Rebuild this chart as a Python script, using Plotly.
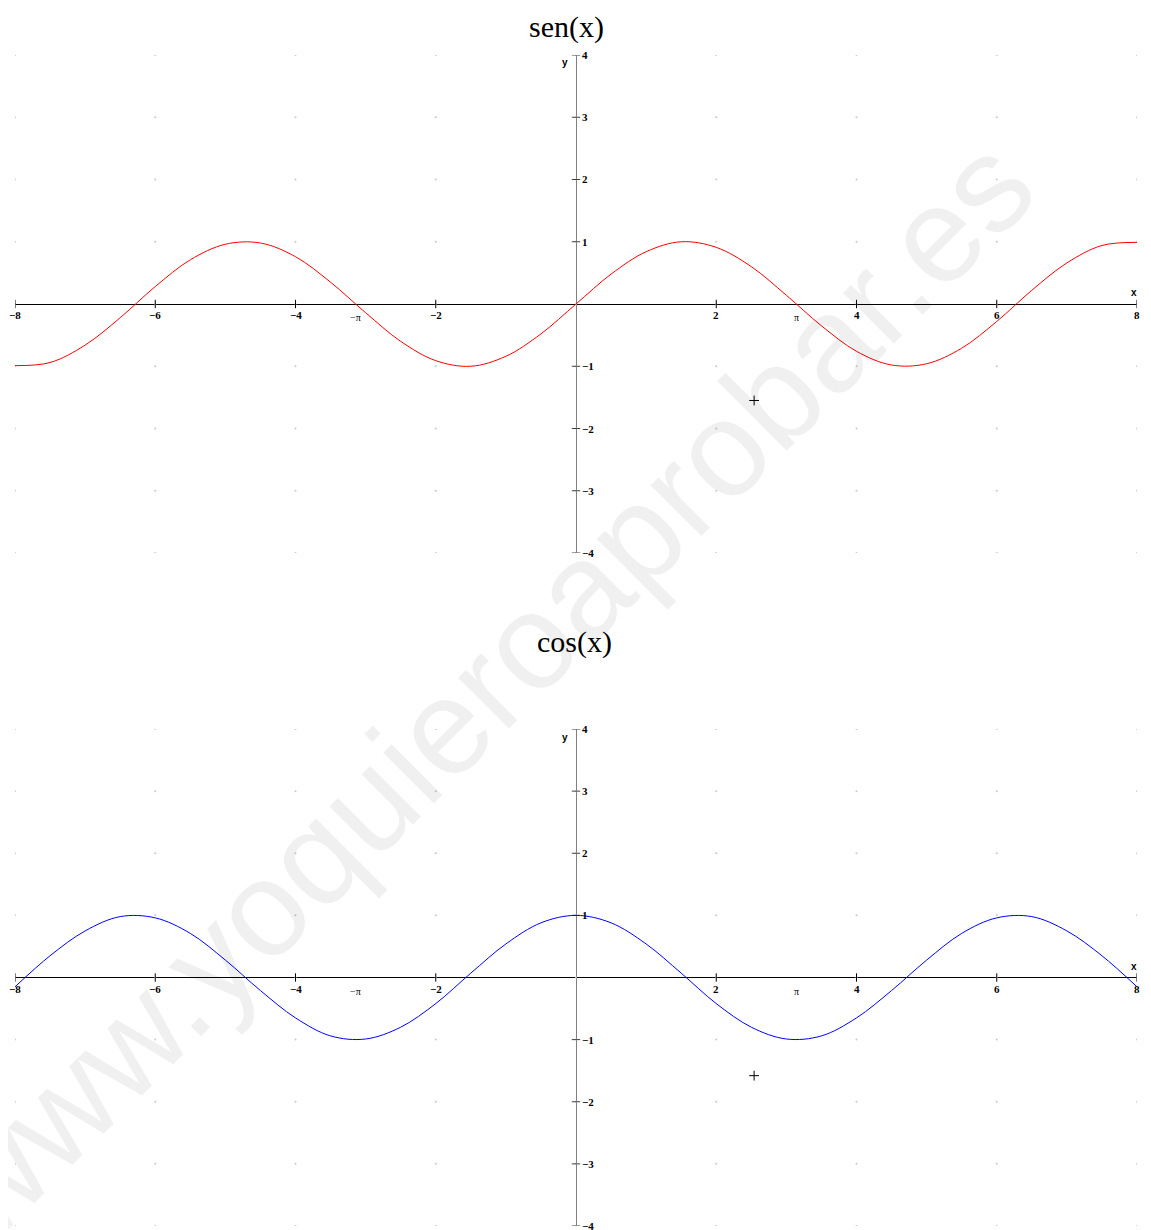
import plotly.graph_objects as go

# ---- data ----
x_samples = [-8, -7.5, -7, -6.5, -6, -5.5, -5, -4.5, -4, -3.5, -3, -2.5, -2, -1.5, -1, -0.5,
             0, 0.5, 1, 1.5, 2, 2.5, 3, 3.5, 4, 4.5, 5, 5.5, 6, 6.5, 7, 7.5, 8]
sen_values = [-0.99, -0.94, -0.66, -0.22, 0.28, 0.71, 0.96, 0.98, 0.76, 0.35, -0.14, -0.60, -0.91, -1.00, -0.84, -0.48,
              0.00, 0.48, 0.84, 1.00, 0.91, 0.60, 0.14, -0.35, -0.76, -0.98, -0.96, -0.71, -0.28, 0.22, 0.66, 0.94, 0.99]
cos_values = [-0.15, 0.35, 0.75, 0.98, 0.96, 0.71, 0.28, -0.21, -0.65, -0.94, -0.99, -0.80, -0.42, 0.07, 0.54, 0.88,
              1.00, 0.88, 0.54, 0.07, -0.42, -0.80, -0.99, -0.94, -0.65, -0.21, 0.28, 0.71, 0.96, 0.98, 0.75, 0.35, -0.15]
x_ticks = [-8, -6, -4, -2, 2, 4, 6, 8]
x_tick_labels = ["−8", "−6", "−4", "−2", "2", "4", "6", "8"]
y_ticks = [4, 3, 2, 1, -1, -2, -3, -4]
y_tick_labels = ["4", "3", "2", "1", "−1", "−2", "−3", "−4"]
pi_ticks = [-3.14159, 3.14159]
pi_labels = ["−π", "π"]
grid_x = [-8, -6, -4, -2, 0, 2, 4, 6, 8]
grid_y = [-4, -3, -2, -1, 0, 1, 2, 3, 4]
cursor_sen = (2.54, -1.55)
cursor_cos = (2.54, -1.58)
titles = ["sen(x)", "cos(x)"]
watermark = "www.yoquieroaprobar.es"

# page body has an 8px margin; compensate so the drawing lands where the reference has it
OFF = 8
W, H = 1151 - OFF, 1230 - OFF


def px(v):
    return (v - OFF) / W


def py(v):
    return 1 - (v - OFF) / H


fig = go.Figure()

panels = [
    dict(xa="x", ya="y", yaxis="yaxis", xaxis="xaxis", vals=sen_values, color="#ff0000",
         dom=[py(553), py(55)], cursor=cursor_sen),
    dict(xa="x2", ya="y2", yaxis="yaxis2", xaxis="xaxis2", vals=cos_values, color="#0000ff",
         dom=[py(1226), py(729)], cursor=cursor_cos),
]

annotations = []
for p in panels:
    gx = [gxv for gxv in grid_x for _ in grid_y]
    gy = [gyv for _ in grid_x for gyv in grid_y]
    fig.add_trace(go.Scatter(x=gx, y=gy, mode="markers", xaxis=p["xa"], yaxis=p["ya"],
                             marker=dict(size=2, color="#c8c8c8"), hoverinfo="skip", showlegend=False))
    fig.add_trace(go.Scatter(x=x_ticks, y=[0] * len(x_ticks), mode="markers", xaxis=p["xa"], yaxis=p["ya"],
                             marker=dict(symbol="line-ns", size=6, line=dict(width=1, color="#000000")),
                             hoverinfo="skip", showlegend=False))
    fig.add_trace(go.Scatter(x=[0] * len(y_ticks), y=y_ticks, mode="markers", xaxis=p["xa"], yaxis=p["ya"],
                             marker=dict(symbol="line-ew", size=6, line=dict(width=1, color="#404040")),
                             hoverinfo="skip", showlegend=False))
    fig.add_trace(go.Scatter(x=x_samples, y=p["vals"], mode="lines", xaxis=p["xa"], yaxis=p["ya"],
                             line=dict(color=p["color"], width=1, shape="spline"), showlegend=False))
    fig.add_trace(go.Scatter(x=[p["cursor"][0]], y=[p["cursor"][1]], mode="markers", xaxis=p["xa"], yaxis=p["ya"],
                             marker=dict(symbol="cross-thin", size=7, line=dict(width=1, color="#000000")),
                             hoverinfo="skip", showlegend=False))
    fig.layout[p["xaxis"]] = dict(range=[-8, 8], domain=[px(15), px(1137)], showgrid=False, zeroline=True,
                                  zerolinecolor="#808080", zerolinewidth=1, showticklabels=False, ticks="",
                                  showline=False, fixedrange=True, anchor=p["ya"])
    fig.layout[p["yaxis"]] = dict(range=[-4, 4], domain=p["dom"], showgrid=False, zeroline=True,
                                  zerolinecolor="#000000", zerolinewidth=1, showticklabels=False, ticks="",
                                  showline=False, fixedrange=True, anchor=p["xa"])
    tick_font = dict(family="Liberation Serif", size=11, color="#000000", weight="bold")
    for v, t in zip(x_ticks, x_tick_labels):
        annotations.append(dict(x=v, y=0, xref=p["xa"], yref=p["ya"], text=t, showarrow=False,
                                xanchor="center", yanchor="top", yshift=-3, font=tick_font))
    for v, t in zip(y_ticks, y_tick_labels):
        annotations.append(dict(x=0, y=v, xref=p["xa"], yref=p["ya"], text=t, showarrow=False,
                                xanchor="left", yanchor="middle", xshift=4, font=tick_font))
    for v, t in zip(pi_ticks, pi_labels):
        annotations.append(dict(x=v, y=0, xref=p["xa"], yref=p["ya"], text=t, showarrow=False,
                                xanchor="center", yanchor="top", yshift=-6,
                                font=dict(family="Liberation Serif", size=10, color="#000000")))
    annotations.append(dict(x=8, y=0, xref=p["xa"], yref=p["ya"], text="x", showarrow=False,
                            xanchor="right", yanchor="bottom", yshift=4, xshift=2,
                            font=dict(family="Liberation Sans", size=10, color="#000000", weight="bold")))
    annotations.append(dict(x=0, y=4, xref=p["xa"], yref=p["ya"], text="y", showarrow=False,
                            xanchor="right", yanchor="middle", yshift=-8, xshift=-6,
                            font=dict(family="Liberation Sans", size=10, color="#000000", weight="bold")))

annotations.append(dict(x=px(566.5), y=1, xref="paper", yref="paper", text=titles[0], showarrow=False,
                        xanchor="center", yanchor="top",
                        font=dict(family="Liberation Serif", size=30, color="#000000")))
annotations.append(dict(x=px(574.5), y=py(642), xref="paper", yref="paper", text=titles[1], showarrow=False,
                        xanchor="center", yanchor="middle",
                        font=dict(family="Liberation Serif", size=30, color="#000000")))
annotations.append(dict(x=px(482), y=py(689), xref="paper", yref="paper", text=watermark, showarrow=False,
                        xanchor="center", yanchor="middle", textangle=-45,
                        font=dict(family="Liberation Sans", size=136, color="rgba(0,0,0,0.06)")))

fig.update_layout(width=W, height=H, margin=dict(l=0, r=0, t=0, b=0),
                  paper_bgcolor="#ffffff", plot_bgcolor="#ffffff", annotations=annotations,
                  showlegend=False)

fig.write_html("out.html")
